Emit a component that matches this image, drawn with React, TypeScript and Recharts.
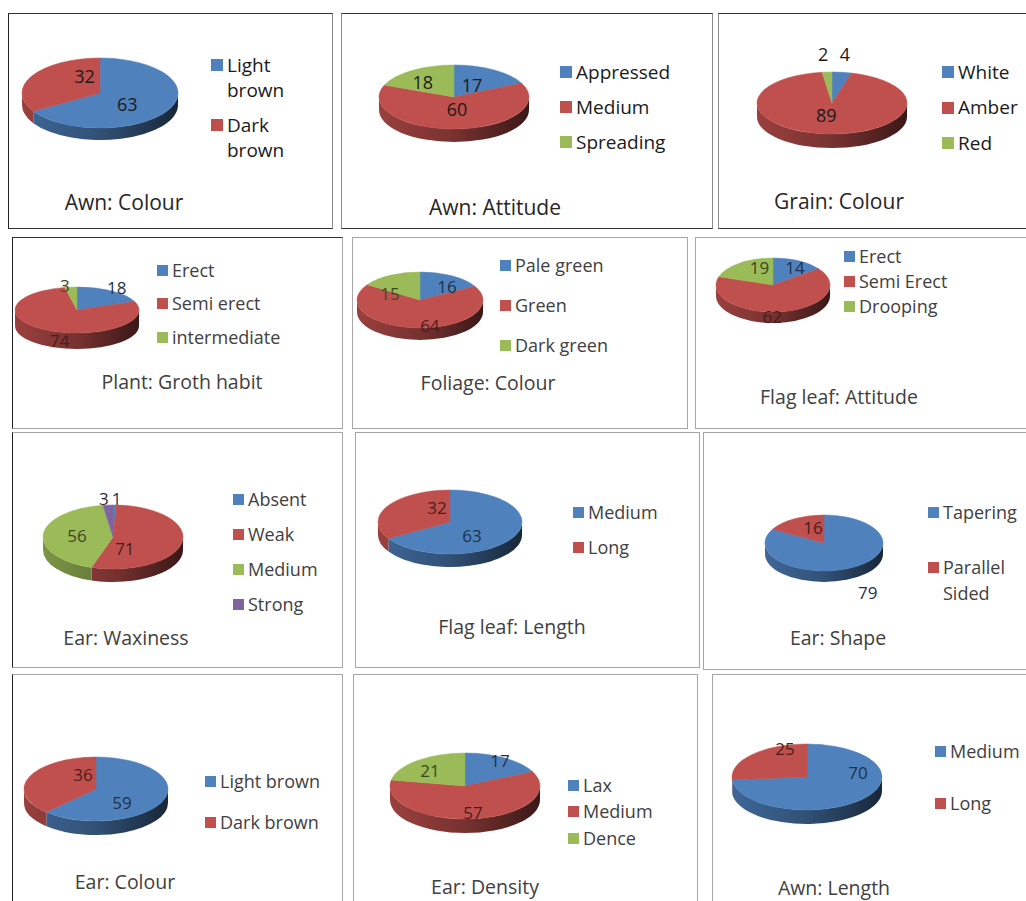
import React from 'react';
import { PieChart, Pie } from 'recharts';

const BLUE = '#4f81bd';
const RED = '#c0504d';
const GREEN = '#9bbb59';
const PURPLE = '#8064a2';

// ---- data ----
const awnColourCategories = ['Light brown', 'Dark brown'];
const awnColourValues = [63, 32];
const awnAttitudeCategories = ['Appressed', 'Medium', 'Spreading'];
const awnAttitudeValues = [17, 60, 18];
const grainColourCategories = ['White', 'Amber', 'Red'];
const grainColourValues = [4, 89, 2];
const growthHabitCategories = ['Erect', 'Semi erect', 'intermediate'];
const growthHabitValues = [18, 74, 3];
const foliageColourCategories = ['Pale green', 'Green', 'Dark green'];
const foliageColourValues = [16, 64, 15];
const flagLeafAttitudeCategories = ['Erect', 'Semi Erect', 'Drooping'];
const flagLeafAttitudeValues = [14, 62, 19];
const earWaxinessCategories = ['Absent', 'Weak', 'Medium', 'Strong'];
const earWaxinessValues = [1, 71, 56, 3];
const flagLeafLengthCategories = ['Medium', 'Long'];
const flagLeafLengthValues = [63, 32];
const earShapeCategories = ['Tapering', 'Parallel Sided'];
const earShapeValues = [79, 16];
const earColourCategories = ['Light brown', 'Dark brown'];
const earColourValues = [59, 36];
const earDensityCategories = ['Lax', 'Medium', 'Dence'];
const earDensityValues = [17, 57, 21];
const awnLengthCategories = ['Medium', 'Long'];
const awnLengthValues = [70, 25];

const DARK = '#333';
const LIGHT = '#8c8c8c';
const GREY = '#a6a6a6';

type Cfg = {
  id: string;
  title: string;
  cats: string[];
  vals: number[];
  colors: string[];
  box: [number, number, number, number];
  border: [string, string, string, string]; // t r b l
  pie: { cx: number; cy: number; rx: number; ry: number; d: number };
  labelR: number[];
  nudges: [number, number][];
  legend: { x: number; y: number; step: number; width?: number; lh?: number };
  titlePos: [number, number];
  top: boolean;
};

const panels: Cfg[] = [
  {
    id: 'p1', title: 'Awn: Colour', cats: awnColourCategories, vals: awnColourValues, colors: [BLUE, RED],
    box: [8, 13, 325, 216], border: [DARK, LIGHT, DARK, '#222'],
    pie: { cx: 100, cy: 93, rx: 78, ry: 35, d: 12 }, labelR: [0.55, 0.55], nudges: [[-10, 1.5], [22, -7.5]],
    legend: { x: 211, y: 65, step: 60, width: 72, lh: 25 }, titlePos: [124, 202], top: true,
  },
  {
    id: 'p2', title: 'Awn: Attitude', cats: awnAttitudeCategories, vals: awnAttitudeValues, colors: [BLUE, RED, GREEN],
    box: [341, 13, 372, 216], border: [DARK, LIGHT, DARK, LIGHT],
    pie: { cx: 454, cy: 97, rx: 75, ry: 32, d: 13 }, labelR: [0.55, 0.55, 0.55], nudges: [[-4, 3], [1.6, -5.6], [-8, 0]],
    legend: { x: 560, y: 72, step: 35 }, titlePos: [495, 207], top: true,
  },
  {
    id: 'p3', title: 'Grain: Colour', cats: grainColourCategories, vals: grainColourValues, colors: [BLUE, RED, GREEN],
    box: [718, 13, 320, 216], border: [DARK, 'transparent', DARK, LIGHT],
    pie: { cx: 832, cy: 103, rx: 75, ry: 31, d: 14 }, labelR: [1, 0.55, 1], nudges: [[3, -18], [-3, -5], [-4, -18]],
    legend: { x: 942, y: 72, step: 35.5 }, titlePos: [839, 201], top: true,
  },
  {
    id: 'p4', title: 'Plant: Groth habit', cats: growthHabitCategories, vals: growthHabitValues, colors: [BLUE, RED, GREEN],
    box: [12, 237, 331, 192], border: [DARK, GREY, GREY, '#222'],
    pie: { cx: 77, cy: 310, rx: 62, ry: 23, d: 16 }, labelR: [1, 0.55, 1], nudges: [[5, -3], [-1, 19], [-6, -2]],
    legend: { x: 157, y: 270, step: 33.5 }, titlePos: [182, 382], top: false,
  },
  {
    id: 'p5', title: 'Foliage: Colour', cats: foliageColourCategories, vals: foliageColourValues, colors: [BLUE, RED, GREEN],
    box: [352, 237, 336, 192], border: [GREY, GREY, GREY, GREY],
    pie: { cx: 420, cy: 300, rx: 63, ry: 28, d: 12 }, labelR: [0.55, 0.55, 0.55], nudges: [[9.5, 0], [11, 10], [-13.5, 6.6]],
    legend: { x: 500, y: 265, step: 40 }, titlePos: [488, 383], top: false,
  },
  {
    id: 'p6', title: 'Flag leaf: Attitude', cats: flagLeafAttitudeCategories, vals: flagLeafAttitudeValues, colors: [BLUE, RED, GREEN],
    box: [695, 237, 335, 192], border: [GREY, GREY, GREY, GREY],
    pie: { cx: 773, cy: 285, rx: 57, ry: 27, d: 11 }, labelR: [0.55, 0.55, 0.55], nudges: [[8, -4], [-6, 17], [5, -5]],
    legend: { x: 844, y: 256, step: 25 }, titlePos: [839, 397], top: false,
  },
  {
    id: 'p7', title: 'Ear: Waxiness', cats: earWaxinessCategories, vals: earWaxinessValues, colors: [BLUE, RED, GREEN, PURPLE],
    box: [12, 432, 331, 236], border: [GREY, GREY, GREY, '#222'],
    pie: { cx: 113, cy: 537, rx: 70, ry: 32, d: 13 }, labelR: [1, 0.55, 0.55, 1], nudges: [[2, -7], [-26, 8], [2.4, 0], [-4, -7]],
    legend: { x: 233, y: 499, step: 35.3 }, titlePos: [126, 638], top: false,
  },
  {
    id: 'p8', title: 'Flag leaf: Length', cats: flagLeafLengthCategories, vals: flagLeafLengthValues, colors: [BLUE, RED],
    box: [355, 432, 345, 236], border: [GREY, GREY, GREY, GREY],
    pie: { cx: 450, cy: 522, rx: 72, ry: 32, d: 13 }, labelR: [0.55, 0.55], nudges: [[-12.5, 4.4], [21.5, -5.4]],
    legend: { x: 573, y: 512, step: 35 }, titlePos: [512, 627], top: false,
  },
  {
    id: 'p9', title: 'Ear: Shape', cats: earShapeCategories, vals: earShapeValues, colors: [BLUE, RED],
    box: [703, 432, 327, 238], border: [GREY, GREY, GREY, GREY],
    pie: { cx: 824, cy: 543, rx: 59, ry: 28, d: 11 }, labelR: [1, 0.55], nudges: [[14, 25], [5.4, -2.7]],
    legend: { x: 928, y: 512, step: 55, width: 80, lh: 26 }, titlePos: [838, 638], top: false,
  },
  {
    id: 'p10', title: 'Ear: Colour', cats: earColourCategories, vals: earColourValues, colors: [BLUE, RED],
    box: [12, 674, 331, 240], border: [GREY, GREY, GREY, '#222'],
    pie: { cx: 96, cy: 789, rx: 72, ry: 32, d: 14 }, labelR: [0.55, 0.55], nudges: [[-10.7, 6.5], [23.7, -7.5]],
    legend: { x: 205, y: 781, step: 41 }, titlePos: [125, 882], top: false,
  },
  {
    id: 'p11', title: 'Ear: Density', cats: earDensityCategories, vals: earDensityValues, colors: [BLUE, RED, GREEN],
    box: [353, 674, 345, 240], border: [GREY, GREY, GREY, GREY],
    pie: { cx: 465, cy: 786, rx: 75, ry: 33, d: 14 }, labelR: [0.55, 0.55, 0.55], nudges: [[13, -10.6], [2.6, 9], [-8.6, -2]],
    legend: { x: 568, y: 785, step: 26.5 }, titlePos: [485, 887], top: false,
  },
  {
    id: 'p12', title: 'Awn: Length', cats: awnLengthCategories, vals: awnLengthValues, colors: [BLUE, RED],
    box: [712, 674, 320, 240], border: [GREY, GREY, GREY, GREY],
    pie: { cx: 807, cy: 777, rx: 75, ry: 33, d: 14 }, labelR: [0.55, 0.55], nudges: [[20.6, -16.3], [8.4, -16.7]],
    legend: { x: 935, y: 751, step: 52 }, titlePos: [834, 888], top: false,
  },
];

const RAD = Math.PI / 180;

function shade(hex: string, f: number) {
  const n = parseInt(hex.slice(1), 16);
  const r = Math.round(((n >> 16) & 255) * f);
  const g = Math.round(((n >> 8) & 255) * f);
  const b = Math.round((n & 255) * f);
  return `rgb(${r},${g},${b})`;
}

function makeSliceRenderer(cfg: Cfg) {
  const ratio = cfg.pie.ry / cfg.pie.rx;
  const depth = cfg.pie.d;
  return (props: any) => {
    const { cx, cy, outerRadius, startAngle, endAngle, index } = props;
    const rx = outerRadius;
    const ry = rx * ratio;
    const pt = (a: number) => [cx + rx * Math.cos(a * RAD), cy - ry * Math.sin(a * RAD)];
    const s = Math.max(startAngle, endAngle);
    const e = Math.min(startAngle, endAngle);
    const color = cfg.colors[index % cfg.colors.length];
    const p0 = pt(s);
    const p1 = pt(e);
    const large = s - e > 180 ? 1 : 0;
    const topPath = `M${cx},${cy} L${p0[0]},${p0[1]} A${rx},${ry} 0 ${large} 1 ${p1[0]},${p1[1]} Z`;
    const hi = Math.min(s, 0);
    const lo = Math.max(e, -180);
    let side: string | null = null;
    if (hi > lo) {
      const a = pt(hi);
      const b = pt(lo);
      side = `M${a[0]},${a[1]} A${rx},${ry} 0 0 1 ${b[0]},${b[1]} L${b[0]},${b[1] + depth} A${rx},${ry} 0 0 0 ${a[0]},${a[1] + depth} Z`;
    }
    const gid = `grad-${cfg.id}-${index}`;
    return (
      <g>
        <defs>
          <linearGradient id={gid} gradientUnits="userSpaceOnUse" x1={cx - rx} x2={cx + rx} y1={0} y2={0}>
            <stop offset="0" stopColor={shade(color, 0.8)} />
            <stop offset="0.5" stopColor={shade(color, 0.62)} />
            <stop offset="1" stopColor={shade(color, 0.3)} />
          </linearGradient>
        </defs>
        {side && <path d={side} fill={`url(#${gid})`} stroke="none" />}
        <path d={topPath} fill={color} stroke={color} strokeWidth={0.5} />
      </g>
    );
  };
}

function makeTextRenderer(cfg: Cfg) {
  const ratio = cfg.pie.ry / cfg.pie.rx;
  return (props: any) => {
    const { cx, cy, outerRadius, startAngle, endAngle, index } = props;
    const rx = outerRadius;
    const ry = rx * ratio;
    const mid = (startAngle + endAngle) / 2;
    const r = cfg.labelR[index];
    const [dx, dy] = cfg.nudges[index];
    const x = cx + r * rx * Math.cos(mid * RAD) + dx;
    const y = cy - r * ry * Math.sin(mid * RAD) + dy;
    const color = cfg.top ? '#1a1a1a' : shade(cfg.colors[index], 0.38);
    return (
      <text x={x} y={y} textAnchor="middle" dominantBaseline="central"
        fontFamily="'Open Sans', sans-serif" fontSize={cfg.top ? 18 : 17} fill={color}>
        {cfg.vals[index]}
      </text>
    );
  };
}

function Panel({ cfg }: { cfg: Cfg }) {
  const [bx, by, bw, bh] = cfg.box;
  const data = cfg.cats.map((c, i) => ({ name: c, value: cfg.vals[i] }));
  const sq = cfg.top ? 12 : 11;
  const fs = cfg.top ? 19 : 18;
  const lh = cfg.legend.lh ?? 25;
  const textColor = cfg.top ? '#1a1a1a' : '#404040';
  return (
    <>
      <div style={{
        position: 'absolute', left: bx, top: by, width: bw, height: bh, boxSizing: 'border-box',
        borderStyle: 'solid', borderWidth: 1,
        borderTopColor: cfg.border[0], borderRightColor: cfg.border[1],
        borderBottomColor: cfg.border[2], borderLeftColor: cfg.border[3],
      }} />
      <div style={{ position: 'absolute', left: bx, top: by, width: bw, height: bh }}>
        <PieChart width={bw} height={bh} margin={{ top: 0, right: 0, bottom: 0, left: 0 }}>
          <Pie data={data} dataKey="value" nameKey="name" cx={cfg.pie.cx - bx} cy={cfg.pie.cy - by}
            innerRadius={0} outerRadius={cfg.pie.rx} startAngle={90} endAngle={-270}
            isAnimationActive={false} fill="transparent" stroke="none"
            label={makeSliceRenderer(cfg)} labelLine={false} />
          <Pie data={data} dataKey="value" nameKey="name" cx={cfg.pie.cx - bx} cy={cfg.pie.cy - by}
            innerRadius={0} outerRadius={cfg.pie.rx} startAngle={90} endAngle={-270}
            isAnimationActive={false} fill="transparent" stroke="none"
            label={makeTextRenderer(cfg)} labelLine={false} />
        </PieChart>
      </div>
      {cfg.cats.map((c, i) => (
        <div key={c} style={{
          position: 'absolute', left: cfg.legend.x, top: cfg.legend.y + i * cfg.legend.step - lh / 2,
          display: 'flex', alignItems: 'flex-start',
        }}>
          <div style={{ width: sq, height: sq, background: cfg.colors[i], marginTop: (lh - sq) / 2, flex: 'none' }} />
          <div style={{
            marginLeft: 4, fontSize: fs, lineHeight: `${lh}px`, color: textColor,
            width: cfg.legend.width, whiteSpace: cfg.legend.width ? 'normal' : 'nowrap',
          }}>{c}</div>
        </div>
      ))}
      <div style={{
        position: 'absolute', left: cfg.titlePos[0], top: cfg.titlePos[1], transform: 'translate(-50%, -50%)',
        fontSize: cfg.top ? 21 : 19.5, lineHeight: '24px', color: cfg.top ? '#262626' : '#404040', whiteSpace: 'nowrap',
      }}>{cfg.title}</div>
    </>
  );
}

export default function App() {
  return (
    <div style={{
      position: 'absolute', left: 0, top: 0, width: 1026, height: 901, overflow: 'hidden',
      background: '#fff', fontFamily: "'Open Sans', sans-serif",
    }}>
      {panels.map((p) => <Panel key={p.id} cfg={p} />)}
    </div>
  );
}
